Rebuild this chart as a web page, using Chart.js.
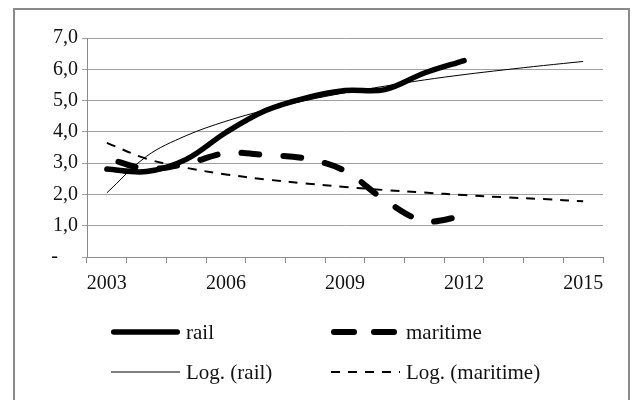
<!DOCTYPE html>
<html>
<head>
<meta charset="utf-8">
<script src="https://cdn.jsdelivr.net/npm/chart.js@4/dist/chart.umd.min.js"></script>
<style>
  html, body { margin: 0; padding: 0; background: #fff; }
  #wrap { width: 632px; height: 400px; }
</style>
</head>
<body>
<div id="wrap"><canvas id="lineChart" width="632" height="400"></canvas></div>
<script>
// values
const years = ['2003','2004','2005','2006','2007','2008','2009','2010','2011','2012','2013','2014','2015'];
const shownYears = ['2003','2006','2009','2012','2015'];
const rail = [2.81, 2.73, 3.12, 3.98, 4.68, 5.08, 5.32, 5.35, 5.88, 6.28];
const maritime = [3.16, 2.82, 2.98, 3.32, 3.26, 3.15, 2.75, 1.82, 1.15, 1.32];
const logRail = [2.05, 3.22, 3.88, 4.34, 4.70, 5.00, 5.25, 5.46, 5.66, 5.83, 5.98, 6.12, 6.25];
const logMaritime = [3.65, 3.14, 2.85, 2.64, 2.48, 2.35, 2.24, 2.14, 2.06, 1.98, 1.91, 1.85, 1.78];
const yTicks = [0, 1, 2, 3, 4, 5, 6, 7];

const serif = '"Liberation Serif", "Times New Roman", serif';

// legend boxes, 2 x 2
const legendSpots = [
  {x: 111, y: 332}, {x: 331, y: 332},
  {x: 111, y: 372}, {x: 331, y: 372}
];

const framePlugin = {
  id: 'frame',
  beforeDraw(chart) {
    const c = chart.ctx;
    c.save();
    c.fillStyle = '#fff';
    c.fillRect(0, 0, chart.width, chart.height);
    c.strokeStyle = '#8a8a8a';
    c.lineWidth = 2;
    c.strokeRect(14, 9, 615, 400);
    c.restore();
  },
  afterDraw(chart) {
    const c = chart.ctx;
    c.save();
    chart.data.datasets.forEach((ds, i) => {
      const p = legendSpots[i];
      const cap = ds.borderCapStyle === 'round' ? ds.borderWidth / 2 : 0;
      c.beginPath();
      c.strokeStyle = ds.borderColor;
      c.lineWidth = ds.borderWidth;
      c.lineCap = ds.borderCapStyle || 'butt';
      c.setLineDash(ds.legendDash || ds.borderDash || []);
      c.moveTo(p.x + cap, p.y);
      c.lineTo(p.x + 69 - cap, p.y);
      c.stroke();
      c.setLineDash([]);
      c.fillStyle = '#111';
      c.font = '21px ' + serif;
      c.textBaseline = 'middle';
      c.fillText(ds.label, p.x + 75, p.y + 1);
    });
    c.restore();
  }
};

const ctx = document.getElementById('lineChart').getContext('2d');
new Chart(ctx, {
  type: 'line',
  data: {
    labels: years,
    datasets: [
      {
        label: 'rail',
        data: rail,
        borderColor: '#000',
        borderWidth: 5.5,
        borderCapStyle: 'round',
        pointRadius: 0,
        tension: 0.35
      },
      {
        label: 'maritime',
        data: maritime,
        borderColor: '#000',
        borderWidth: 6,
        borderDash: [18, 24],
        borderDashOffset: 30,
        legendDash: [20, 20],
        borderCapStyle: 'round',
        pointRadius: 0,
        tension: 0.35
      },
      {
        label: 'Log. (rail)',
        data: logRail,
        borderColor: '#000',
        borderWidth: 1,
        pointRadius: 0,
        tension: 0.35
      },
      {
        label: 'Log. (maritime)',
        data: logMaritime,
        borderColor: '#000',
        borderWidth: 2,
        borderDash: [9, 8],
        legendDash: [9, 8],
        pointRadius: 0,
        tension: 0.35
      }
    ]
  },
  options: {
    responsive: false,
    animation: false,
    layout: { padding: { top: 38, right: 29, bottom: 0, left: 0 } },
    plugins: {
      legend: { display: false },
      tooltip: { enabled: false }
    },
    scales: {
      x: {
        offset: true,
        grid: {
          offset: true,
          drawOnChartArea: false,
          drawTicks: true,
          tickLength: 6,
          color: '#8a8a8a'
        },
        border: { display: true, color: '#8a8a8a', width: 1 },
        ticks: {
          autoSkip: false,
          maxRotation: 0,
          padding: 9,
          color: '#111',
          font: { family: serif, size: 20 },
          callback(value, index) {
            const lab = years[index];
            return shownYears.includes(lab) ? lab : '';
          }
        },
        afterFit(scale) { scale.height = 143; }
      },
      y: {
        min: yTicks[0],
        max: yTicks[yTicks.length - 1],
        afterBuildTicks(scale) { scale.ticks = yTicks.map(v => ({ value: v })); },
        grid: {
          color: '#a0a0a0',
          drawTicks: true,
          tickLength: 5
        },
        border: { display: true, color: '#8a8a8a', width: 1 },
        ticks: {
          padding: 4,
          color: '#111',
          font: { family: serif, size: 20 },
          callback(value) {
            return value === 0 ? '-    ' : value.toFixed(1).replace('.', ',');
          }
        },
        afterFit(scale) { scale.width = 87; }
      }
    }
  },
  plugins: [framePlugin]
});
</script>
</body>
</html>
